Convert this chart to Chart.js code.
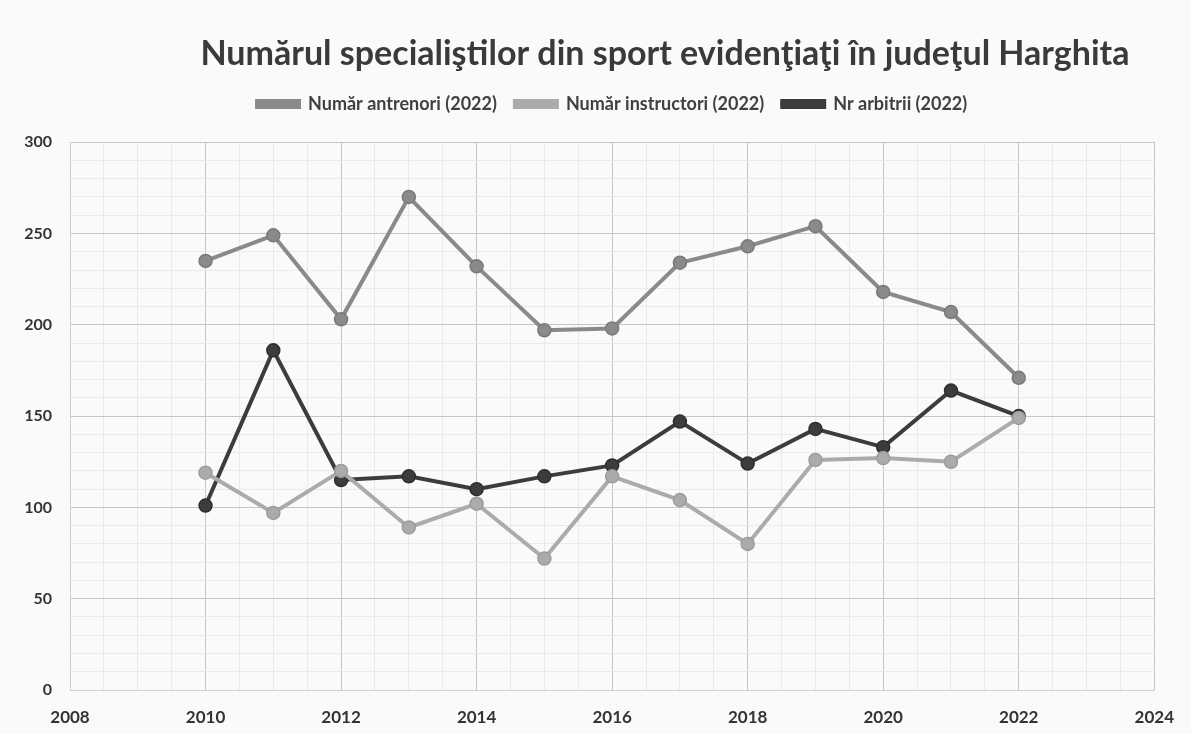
<!DOCTYPE html>
<html>
<head>
<meta charset="utf-8">
<script src="https://cdn.jsdelivr.net/npm/chart.js@4.4.1/dist/chart.umd.min.js"></script>
<style>
  html, body { margin: 0; padding: 0; background: #fafafa; }
  #wrap { width: 1191px; height: 734px; }
</style>
</head>
<body>
<div id="wrap"><canvas id="myChart" width="1191" height="734"></canvas></div>
<script>
const years = [2010, 2011, 2012, 2013, 2014, 2015, 2016, 2017, 2018, 2019, 2020, 2021, 2022];
const antrenori = [235, 249, 203, 270, 232, 197, 198, 234, 243, 254, 218, 207, 171];
const instructori = [119, 97, 120, 89, 102, 72, 117, 104, 80, 126, 127, 125, 149];
const arbitrii = [101, 186, 115, 117, 110, 117, 123, 147, 124, 143, 133, 164, 150];

const titleText = 'Numărul specialiştilor din sport evidenţiaţi în judeţul Harghita';

function toPoints(values) {
    return values.map(function (v, i) {
        return { x: years[i], y: v };
    });
}

// title is drawn a bit right of centre, like in the scan
const titlePlugin = {
    id: 'shiftedTitle',
    afterDraw: function (chart) {
        const ctx = chart.ctx;
        ctx.save();
        ctx.font = 'bold 34px Lato';
        ctx.fillStyle = '#3a3a3a';
        ctx.textAlign = 'center';
        ctx.textBaseline = 'middle';
        ctx.fillText(titleText, 665, 54);
        ctx.restore();
    }
};

function makeSet(label, values, color, border) {
    return {
        label: label,
        data: toPoints(values),
        borderColor: color,
        backgroundColor: color,
        borderWidth: 4,
        pointRadius: 6.5,
        pointBackgroundColor: color,
        pointBorderColor: border,
        pointBorderWidth: 1.5,
        tension: 0
    };
}

const ctx = document.getElementById('myChart');
new Chart(ctx, {
    type: 'line',
    data: {
        datasets: [
            makeSet('Număr antrenori (2022)', antrenori, '#8a8a8a', '#7a7a7a'),
            makeSet('Număr instructori (2022)', instructori, '#ababab', '#9c9c9c'),
            makeSet('Nr arbitrii (2022)', arbitrii, '#3c3c3c', '#2e2e2e')
        ]
    },
    options: {
        responsive: false,
        animation: false,
        layout: {
            padding: { left: 10, right: 27, top: 77, bottom: 4 }
        },
        plugins: {
            title: { display: false },
            // empty spacer between legend and plot
            subtitle: {
                display: true,
                text: '',
                weight: 500,
                fullSize: false,
                font: { size: 1 },
                padding: { top: 0, bottom: 18 }
            },
            tooltip: { enabled: false },
            legend: {
                display: true,
                position: 'top',
                fullSize: false,
                labels: {
                    boxWidth: 42,
                    boxHeight: 6,
                    padding: 18,
                    color: '#404040',
                    font: { family: 'Lato', size: 18, weight: 'bold' }
                }
            }
        },
        scales: {
            x: {
                type: 'linear',
                min: 2008,
                max: 2024,
                afterFit: function (scale) { scale.height = 40; },
                border: { color: '#cfcfcf' },
                grid: {
                    drawTicks: false,
                    color: function (c) {
                        return c.tick.value % 2 === 0 ? '#c6c6c6' : '#eaeaea';
                    }
                },
                ticks: {
                    stepSize: 0.5,
                    autoSkip: false,
                    maxRotation: 0,
                    padding: 17,
                    color: '#333333',
                    font: { family: 'Lato', size: 17, weight: 'bold' },
                    callback: function (v) { return v % 2 === 0 ? String(v) : ''; }
                }
            },
            y: {
                min: 0,
                max: 300,
                afterFit: function (scale) { scale.width = 60; },
                border: { color: '#cfcfcf' },
                grid: {
                    drawTicks: false,
                    color: function (c) {
                        return c.tick.value % 50 === 0 ? '#c6c6c6' : '#eaeaea';
                    }
                },
                ticks: {
                    stepSize: 10,
                    autoSkip: false,
                    padding: 18,
                    color: '#333333',
                    font: { family: 'Lato', size: 16, weight: 'bold' },
                    callback: function (v) { return v % 50 === 0 ? v : ''; }
                }
            }
        }
    },
    plugins: [titlePlugin]
});
</script>
</body>
</html>
